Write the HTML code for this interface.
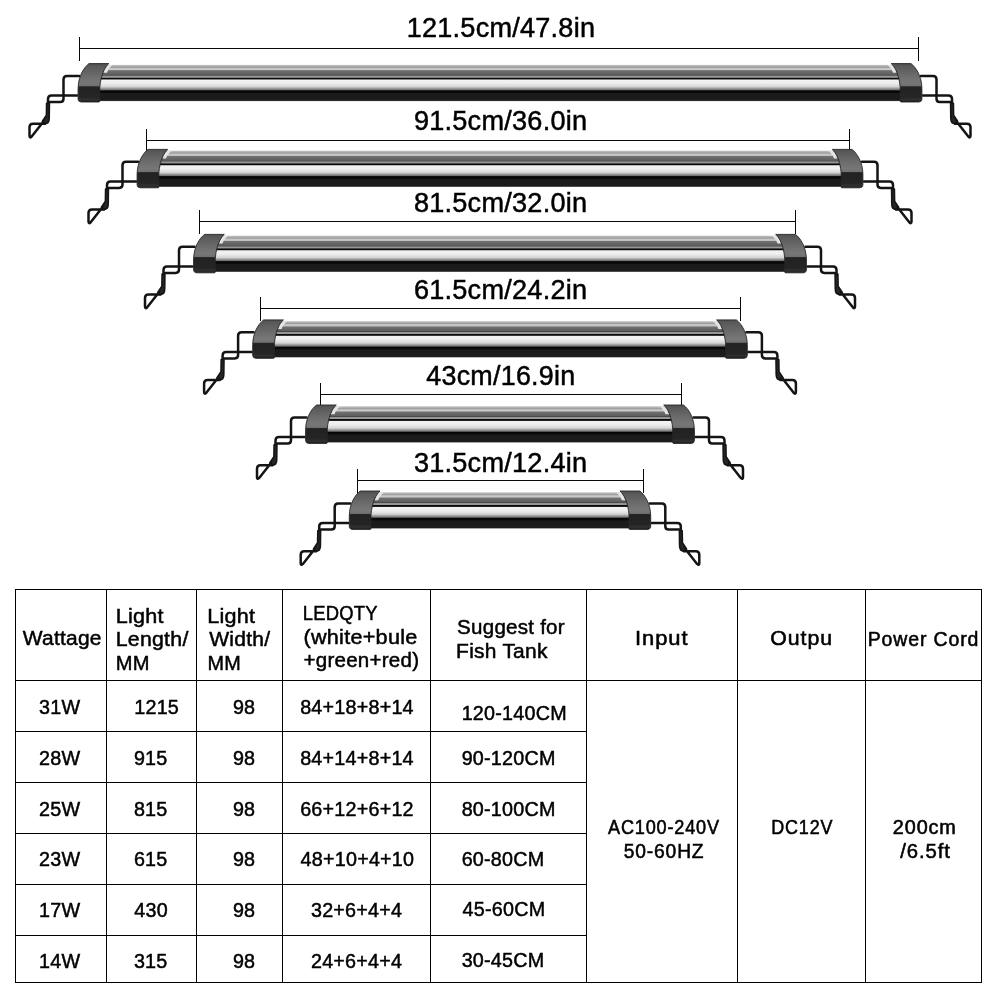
<!DOCTYPE html>
<html><head><meta charset="utf-8"><title>LED Aquarium Light Sizes</title>
<style>
html,body{margin:0;padding:0;background:#fff;}
body{width:1000px;height:1000px;overflow:hidden;position:relative;font-family:"Liberation Sans",sans-serif;}
svg{position:absolute;left:0;top:0;will-change:transform;}
text{font-family:"Liberation Sans",sans-serif;fill:#000;stroke:#000;}
</style></head><body>
<svg width="1000" height="1000" viewBox="0 0 1000 1000">
<defs>
<linearGradient id="body" x1="0" y1="0" x2="0" y2="1">
  <stop offset="0" stop-color="#c4c4c4"/>
  <stop offset="0.045" stop-color="#aaaaaa"/>
  <stop offset="0.07" stop-color="#9a9a9a"/>
  <stop offset="0.095" stop-color="#c8c8c8"/>
  <stop offset="0.13" stop-color="#c6c6c6"/>
  <stop offset="0.16" stop-color="#707070"/>
  <stop offset="0.27" stop-color="#5c5c5c"/>
  <stop offset="0.285" stop-color="#454545"/>
  <stop offset="0.31" stop-color="#959595"/>
  <stop offset="0.345" stop-color="#9a9a9a"/>
  <stop offset="0.36" stop-color="#0a0a0a"/>
  <stop offset="0.39" stop-color="#0a0a0a"/>
  <stop offset="0.415" stop-color="#f2f2f2"/>
  <stop offset="0.5" stop-color="#efefef"/>
  <stop offset="0.6" stop-color="#d6d6d6"/>
  <stop offset="0.64" stop-color="#a8a8a8"/>
  <stop offset="0.69" stop-color="#707070"/>
  <stop offset="0.715" stop-color="#050505"/>
  <stop offset="0.765" stop-color="#0a0a0a"/>
  <stop offset="0.79" stop-color="#1a1a1a"/>
  <stop offset="0.975" stop-color="#1c1c1c"/>
  <stop offset="1" stop-color="#505050"/>
</linearGradient>
<linearGradient id="cap" x1="0" y1="0" x2="0" y2="1">
  <stop offset="0" stop-color="#505050"/>
  <stop offset="0.08" stop-color="#5a5a5a"/>
  <stop offset="0.35" stop-color="#6e6e6e"/>
  <stop offset="0.5" stop-color="#777777"/>
  <stop offset="0.585" stop-color="#707070"/>
  <stop offset="0.6" stop-color="#2a2a2a"/>
  <stop offset="0.63" stop-color="#222222"/>
  <stop offset="0.88" stop-color="#252525"/>
  <stop offset="0.93" stop-color="#303030"/>
  <stop offset="0.97" stop-color="#2a2a2a"/>
  <stop offset="1" stop-color="#151515"/>
</linearGradient>


</defs>

<g fill="#080808"><rect x="79" y="48" width="840" height="1"/><rect x="79" y="37" width="1" height="24"/><rect x="918" y="37" width="1" height="24"/></g>
<g transform="translate(78 64.3)" fill="none" stroke="#141414" stroke-width="2.5" stroke-linecap="round" stroke-linejoin="round">
  <path d="M1 11.7 H-11 Q-14.5 11.7 -14.5 15.2 V34.5 Q-14.5 37.8 -17.8 37.8 H-28.5"/>
  <path d="M-1 31.3 H-26.5 Q-30 31.3 -30 34.8 V41"/>
  <path d="M-31.4 39 L-31.6 51 L-35.6 57 L-34 59.4 L-33 59.4 Q-28.8 59.4 -28.8 54 L-28.6 39 Z" fill="#262626" stroke-width="1.6"/>
  <path d="M-33 59.5 H-45 Q-48.5 59.5 -48.5 63 V71.5 Q-48.5 74.3 -46.3 72.2 L-34.5 57.2"/>
</g>
<g transform="translate(922 64.3) scale(-1 1)" fill="none" stroke="#141414" stroke-width="2.5" stroke-linecap="round" stroke-linejoin="round">
  <path d="M1 11.7 H-11 Q-14.5 11.7 -14.5 15.2 V34.5 Q-14.5 37.8 -17.8 37.8 H-28.5"/>
  <path d="M-1 31.3 H-26.5 Q-30 31.3 -30 34.8 V41"/>
  <path d="M-31.4 39 L-31.6 51 L-35.6 57 L-34 59.4 L-33 59.4 Q-28.8 59.4 -28.8 54 L-28.6 39 Z" fill="#262626" stroke-width="1.6"/>
  <path d="M-33 59.5 H-45 Q-48.5 59.5 -48.5 63 V71.5 Q-48.5 74.3 -46.3 72.2 L-34.5 57.2"/>
</g>
<rect x="93" y="64.9" width="814" height="36.2" fill="url(#body)"/>
<g transform="translate(78 64.3)">
  <path d="M30.5 0.2 L34.5 1 C32 3 30 5.5 29 8.5 L25.2 8.5 C26.5 5 28.3 2 30.5 0.2 Z" fill="#e4e4e4"/>
  <path d="M11 -0.7 H30.8 C26.8 2.5 22.8 11 21.8 23 V36.8 Q21.8 37.7 20.8 37.7 H3 Q0.3 37.5 0.1 35 V24 C0.3 12 6 3 11 -0.7 Z" fill="url(#cap)" stroke="#262626" stroke-width="0.9"/>
</g>
<g transform="translate(922 64.3) scale(-1 1)">
  <path d="M30.5 0.2 L34.5 1 C32 3 30 5.5 29 8.5 L25.2 8.5 C26.5 5 28.3 2 30.5 0.2 Z" fill="#e4e4e4"/>
  <path d="M11 -0.7 H30.8 C26.8 2.5 22.8 11 21.8 23 V36.8 Q21.8 37.7 20.8 37.7 H3 Q0.3 37.5 0.1 35 V24 C0.3 12 6 3 11 -0.7 Z" fill="url(#cap)" stroke="#262626" stroke-width="0.9"/>
</g>
<g fill="#080808"><rect x="146" y="140" width="704" height="1"/><rect x="146" y="129" width="1" height="24"/><rect x="849" y="129" width="1" height="24"/></g>
<g transform="translate(137 150.1)" fill="none" stroke="#141414" stroke-width="2.5" stroke-linecap="round" stroke-linejoin="round">
  <path d="M1 11.7 H-11 Q-14.5 11.7 -14.5 15.2 V34.5 Q-14.5 37.8 -17.8 37.8 H-28.5"/>
  <path d="M-1 31.3 H-26.5 Q-30 31.3 -30 34.8 V41"/>
  <path d="M-31.4 39 L-31.6 51 L-35.6 57 L-34 59.4 L-33 59.4 Q-28.8 59.4 -28.8 54 L-28.6 39 Z" fill="#262626" stroke-width="1.6"/>
  <path d="M-33 59.5 H-45 Q-48.5 59.5 -48.5 63 V71.5 Q-48.5 74.3 -46.3 72.2 L-34.5 57.2"/>
</g>
<g transform="translate(863 150.1) scale(-1 1)" fill="none" stroke="#141414" stroke-width="2.5" stroke-linecap="round" stroke-linejoin="round">
  <path d="M1 11.7 H-11 Q-14.5 11.7 -14.5 15.2 V34.5 Q-14.5 37.8 -17.8 37.8 H-28.5"/>
  <path d="M-1 31.3 H-26.5 Q-30 31.3 -30 34.8 V41"/>
  <path d="M-31.4 39 L-31.6 51 L-35.6 57 L-34 59.4 L-33 59.4 Q-28.8 59.4 -28.8 54 L-28.6 39 Z" fill="#262626" stroke-width="1.6"/>
  <path d="M-33 59.5 H-45 Q-48.5 59.5 -48.5 63 V71.5 Q-48.5 74.3 -46.3 72.2 L-34.5 57.2"/>
</g>
<rect x="152" y="150.7" width="696" height="36.2" fill="url(#body)"/>
<g transform="translate(137 150.1)">
  <path d="M30.5 0.2 L34.5 1 C32 3 30 5.5 29 8.5 L25.2 8.5 C26.5 5 28.3 2 30.5 0.2 Z" fill="#e4e4e4"/>
  <path d="M11 -0.7 H30.8 C26.8 2.5 22.8 11 21.8 23 V36.8 Q21.8 37.7 20.8 37.7 H3 Q0.3 37.5 0.1 35 V24 C0.3 12 6 3 11 -0.7 Z" fill="url(#cap)" stroke="#262626" stroke-width="0.9"/>
</g>
<g transform="translate(863 150.1) scale(-1 1)">
  <path d="M30.5 0.2 L34.5 1 C32 3 30 5.5 29 8.5 L25.2 8.5 C26.5 5 28.3 2 30.5 0.2 Z" fill="#e4e4e4"/>
  <path d="M11 -0.7 H30.8 C26.8 2.5 22.8 11 21.8 23 V36.8 Q21.8 37.7 20.8 37.7 H3 Q0.3 37.5 0.1 35 V24 C0.3 12 6 3 11 -0.7 Z" fill="url(#cap)" stroke="#262626" stroke-width="0.9"/>
</g>
<g fill="#080808"><rect x="199" y="221" width="597" height="1"/><rect x="199" y="210" width="1" height="24"/><rect x="795" y="210" width="1" height="24"/></g>
<g transform="translate(193.5 235.1)" fill="none" stroke="#141414" stroke-width="2.5" stroke-linecap="round" stroke-linejoin="round">
  <path d="M1 11.7 H-11 Q-14.5 11.7 -14.5 15.2 V34.5 Q-14.5 37.8 -17.8 37.8 H-28.5"/>
  <path d="M-1 31.3 H-26.5 Q-30 31.3 -30 34.8 V41"/>
  <path d="M-31.4 39 L-31.6 51 L-35.6 57 L-34 59.4 L-33 59.4 Q-28.8 59.4 -28.8 54 L-28.6 39 Z" fill="#262626" stroke-width="1.6"/>
  <path d="M-33 59.5 H-45 Q-48.5 59.5 -48.5 63 V71.5 Q-48.5 74.3 -46.3 72.2 L-34.5 57.2"/>
</g>
<g transform="translate(806.5 235.1) scale(-1 1)" fill="none" stroke="#141414" stroke-width="2.5" stroke-linecap="round" stroke-linejoin="round">
  <path d="M1 11.7 H-11 Q-14.5 11.7 -14.5 15.2 V34.5 Q-14.5 37.8 -17.8 37.8 H-28.5"/>
  <path d="M-1 31.3 H-26.5 Q-30 31.3 -30 34.8 V41"/>
  <path d="M-31.4 39 L-31.6 51 L-35.6 57 L-34 59.4 L-33 59.4 Q-28.8 59.4 -28.8 54 L-28.6 39 Z" fill="#262626" stroke-width="1.6"/>
  <path d="M-33 59.5 H-45 Q-48.5 59.5 -48.5 63 V71.5 Q-48.5 74.3 -46.3 72.2 L-34.5 57.2"/>
</g>
<rect x="208.5" y="235.7" width="583" height="36.2" fill="url(#body)"/>
<g transform="translate(193.5 235.1)">
  <path d="M30.5 0.2 L34.5 1 C32 3 30 5.5 29 8.5 L25.2 8.5 C26.5 5 28.3 2 30.5 0.2 Z" fill="#e4e4e4"/>
  <path d="M11 -0.7 H30.8 C26.8 2.5 22.8 11 21.8 23 V36.8 Q21.8 37.7 20.8 37.7 H3 Q0.3 37.5 0.1 35 V24 C0.3 12 6 3 11 -0.7 Z" fill="url(#cap)" stroke="#262626" stroke-width="0.9"/>
</g>
<g transform="translate(806.5 235.1) scale(-1 1)">
  <path d="M30.5 0.2 L34.5 1 C32 3 30 5.5 29 8.5 L25.2 8.5 C26.5 5 28.3 2 30.5 0.2 Z" fill="#e4e4e4"/>
  <path d="M11 -0.7 H30.8 C26.8 2.5 22.8 11 21.8 23 V36.8 Q21.8 37.7 20.8 37.7 H3 Q0.3 37.5 0.1 35 V24 C0.3 12 6 3 11 -0.7 Z" fill="url(#cap)" stroke="#262626" stroke-width="0.9"/>
</g>
<g fill="#080808"><rect x="260" y="308" width="481" height="1"/><rect x="260" y="297" width="1" height="24"/><rect x="740" y="297" width="1" height="24"/></g>
<g transform="translate(252.6 320.6)" fill="none" stroke="#141414" stroke-width="2.5" stroke-linecap="round" stroke-linejoin="round">
  <path d="M1 11.7 H-11 Q-14.5 11.7 -14.5 15.2 V34.5 Q-14.5 37.8 -17.8 37.8 H-28.5"/>
  <path d="M-1 31.3 H-26.5 Q-30 31.3 -30 34.8 V41"/>
  <path d="M-31.4 39 L-31.6 51 L-35.6 57 L-34 59.4 L-33 59.4 Q-28.8 59.4 -28.8 54 L-28.6 39 Z" fill="#262626" stroke-width="1.6"/>
  <path d="M-33 59.5 H-45 Q-48.5 59.5 -48.5 63 V71.5 Q-48.5 74.3 -46.3 72.2 L-34.5 57.2"/>
</g>
<g transform="translate(747.4 320.6) scale(-1 1)" fill="none" stroke="#141414" stroke-width="2.5" stroke-linecap="round" stroke-linejoin="round">
  <path d="M1 11.7 H-11 Q-14.5 11.7 -14.5 15.2 V34.5 Q-14.5 37.8 -17.8 37.8 H-28.5"/>
  <path d="M-1 31.3 H-26.5 Q-30 31.3 -30 34.8 V41"/>
  <path d="M-31.4 39 L-31.6 51 L-35.6 57 L-34 59.4 L-33 59.4 Q-28.8 59.4 -28.8 54 L-28.6 39 Z" fill="#262626" stroke-width="1.6"/>
  <path d="M-33 59.5 H-45 Q-48.5 59.5 -48.5 63 V71.5 Q-48.5 74.3 -46.3 72.2 L-34.5 57.2"/>
</g>
<rect x="267.6" y="321.2" width="464.8" height="36.2" fill="url(#body)"/>
<g transform="translate(252.6 320.6)">
  <path d="M30.5 0.2 L34.5 1 C32 3 30 5.5 29 8.5 L25.2 8.5 C26.5 5 28.3 2 30.5 0.2 Z" fill="#e4e4e4"/>
  <path d="M11 -0.7 H30.8 C26.8 2.5 22.8 11 21.8 23 V36.8 Q21.8 37.7 20.8 37.7 H3 Q0.3 37.5 0.1 35 V24 C0.3 12 6 3 11 -0.7 Z" fill="url(#cap)" stroke="#262626" stroke-width="0.9"/>
</g>
<g transform="translate(747.4 320.6) scale(-1 1)">
  <path d="M30.5 0.2 L34.5 1 C32 3 30 5.5 29 8.5 L25.2 8.5 C26.5 5 28.3 2 30.5 0.2 Z" fill="#e4e4e4"/>
  <path d="M11 -0.7 H30.8 C26.8 2.5 22.8 11 21.8 23 V36.8 Q21.8 37.7 20.8 37.7 H3 Q0.3 37.5 0.1 35 V24 C0.3 12 6 3 11 -0.7 Z" fill="url(#cap)" stroke="#262626" stroke-width="0.9"/>
</g>
<g fill="#080808"><rect x="320" y="394" width="362" height="1"/><rect x="320" y="383" width="1" height="24"/><rect x="681" y="383" width="1" height="24"/></g>
<g transform="translate(305.5 405.7)" fill="none" stroke="#141414" stroke-width="2.5" stroke-linecap="round" stroke-linejoin="round">
  <path d="M1 11.7 H-11 Q-14.5 11.7 -14.5 15.2 V34.5 Q-14.5 37.8 -17.8 37.8 H-28.5"/>
  <path d="M-1 31.3 H-26.5 Q-30 31.3 -30 34.8 V41"/>
  <path d="M-31.4 39 L-31.6 51 L-35.6 57 L-34 59.4 L-33 59.4 Q-28.8 59.4 -28.8 54 L-28.6 39 Z" fill="#262626" stroke-width="1.6"/>
  <path d="M-33 59.5 H-45 Q-48.5 59.5 -48.5 63 V71.5 Q-48.5 74.3 -46.3 72.2 L-34.5 57.2"/>
</g>
<g transform="translate(694.5 405.7) scale(-1 1)" fill="none" stroke="#141414" stroke-width="2.5" stroke-linecap="round" stroke-linejoin="round">
  <path d="M1 11.7 H-11 Q-14.5 11.7 -14.5 15.2 V34.5 Q-14.5 37.8 -17.8 37.8 H-28.5"/>
  <path d="M-1 31.3 H-26.5 Q-30 31.3 -30 34.8 V41"/>
  <path d="M-31.4 39 L-31.6 51 L-35.6 57 L-34 59.4 L-33 59.4 Q-28.8 59.4 -28.8 54 L-28.6 39 Z" fill="#262626" stroke-width="1.6"/>
  <path d="M-33 59.5 H-45 Q-48.5 59.5 -48.5 63 V71.5 Q-48.5 74.3 -46.3 72.2 L-34.5 57.2"/>
</g>
<rect x="320.5" y="406.3" width="359" height="36.2" fill="url(#body)"/>
<g transform="translate(305.5 405.7)">
  <path d="M30.5 0.2 L34.5 1 C32 3 30 5.5 29 8.5 L25.2 8.5 C26.5 5 28.3 2 30.5 0.2 Z" fill="#e4e4e4"/>
  <path d="M11 -0.7 H30.8 C26.8 2.5 22.8 11 21.8 23 V36.8 Q21.8 37.7 20.8 37.7 H3 Q0.3 37.5 0.1 35 V24 C0.3 12 6 3 11 -0.7 Z" fill="url(#cap)" stroke="#262626" stroke-width="0.9"/>
</g>
<g transform="translate(694.5 405.7) scale(-1 1)">
  <path d="M30.5 0.2 L34.5 1 C32 3 30 5.5 29 8.5 L25.2 8.5 C26.5 5 28.3 2 30.5 0.2 Z" fill="#e4e4e4"/>
  <path d="M11 -0.7 H30.8 C26.8 2.5 22.8 11 21.8 23 V36.8 Q21.8 37.7 20.8 37.7 H3 Q0.3 37.5 0.1 35 V24 C0.3 12 6 3 11 -0.7 Z" fill="url(#cap)" stroke="#262626" stroke-width="0.9"/>
</g>
<g fill="#080808"><rect x="357" y="480" width="287" height="1"/><rect x="357" y="469" width="1" height="24"/><rect x="643" y="469" width="1" height="24"/></g>
<g transform="translate(349.2 491.7)" fill="none" stroke="#141414" stroke-width="2.5" stroke-linecap="round" stroke-linejoin="round">
  <path d="M1 11.7 H-11 Q-14.5 11.7 -14.5 15.2 V34.5 Q-14.5 37.8 -17.8 37.8 H-28.5"/>
  <path d="M-1 31.3 H-26.5 Q-30 31.3 -30 34.8 V41"/>
  <path d="M-31.4 39 L-31.6 51 L-35.6 57 L-34 59.4 L-33 59.4 Q-28.8 59.4 -28.8 54 L-28.6 39 Z" fill="#262626" stroke-width="1.6"/>
  <path d="M-33 59.5 H-45 Q-48.5 59.5 -48.5 63 V71.5 Q-48.5 74.3 -46.3 72.2 L-34.5 57.2"/>
</g>
<g transform="translate(650.8 491.7) scale(-1 1)" fill="none" stroke="#141414" stroke-width="2.5" stroke-linecap="round" stroke-linejoin="round">
  <path d="M1 11.7 H-11 Q-14.5 11.7 -14.5 15.2 V34.5 Q-14.5 37.8 -17.8 37.8 H-28.5"/>
  <path d="M-1 31.3 H-26.5 Q-30 31.3 -30 34.8 V41"/>
  <path d="M-31.4 39 L-31.6 51 L-35.6 57 L-34 59.4 L-33 59.4 Q-28.8 59.4 -28.8 54 L-28.6 39 Z" fill="#262626" stroke-width="1.6"/>
  <path d="M-33 59.5 H-45 Q-48.5 59.5 -48.5 63 V71.5 Q-48.5 74.3 -46.3 72.2 L-34.5 57.2"/>
</g>
<rect x="364.2" y="492.3" width="271.6" height="36.2" fill="url(#body)"/>
<g transform="translate(349.2 491.7)">
  <path d="M30.5 0.2 L34.5 1 C32 3 30 5.5 29 8.5 L25.2 8.5 C26.5 5 28.3 2 30.5 0.2 Z" fill="#e4e4e4"/>
  <path d="M11 -0.7 H30.8 C26.8 2.5 22.8 11 21.8 23 V36.8 Q21.8 37.7 20.8 37.7 H3 Q0.3 37.5 0.1 35 V24 C0.3 12 6 3 11 -0.7 Z" fill="url(#cap)" stroke="#262626" stroke-width="0.9"/>
</g>
<g transform="translate(650.8 491.7) scale(-1 1)">
  <path d="M30.5 0.2 L34.5 1 C32 3 30 5.5 29 8.5 L25.2 8.5 C26.5 5 28.3 2 30.5 0.2 Z" fill="#e4e4e4"/>
  <path d="M11 -0.7 H30.8 C26.8 2.5 22.8 11 21.8 23 V36.8 Q21.8 37.7 20.8 37.7 H3 Q0.3 37.5 0.1 35 V24 C0.3 12 6 3 11 -0.7 Z" fill="url(#cap)" stroke="#262626" stroke-width="0.9"/>
</g>
<g fill="#000">
<rect x="15" y="589" width="1" height="394"/>
<rect x="106" y="589" width="1" height="394"/>
<rect x="196" y="589" width="1" height="394"/>
<rect x="282" y="589" width="1" height="394"/>
<rect x="430" y="589" width="1" height="394"/>
<rect x="586" y="589" width="1" height="394"/>
<rect x="737" y="589" width="1" height="394"/>
<rect x="865" y="589" width="1" height="394"/>
<rect x="981" y="589" width="1" height="394"/>
<rect x="15" y="589" width="967" height="1"/>
<rect x="15" y="680" width="967" height="1"/>
<rect x="15" y="982" width="967" height="1"/>
<rect x="15" y="731" width="572" height="1"/>
<rect x="15" y="782" width="572" height="1"/>
<rect x="15" y="833" width="572" height="1"/>
<rect x="15" y="884" width="572" height="1"/>
<rect x="15" y="935" width="572" height="1"/>
</g>
<g>
<text transform="translate(406.68 36.9) scale(1.0098 1)" font-size="26.8" letter-spacing="0.25" stroke-width="0.5">121.5cm/47.8in</text>
<text transform="translate(413.89 130.4) scale(1.0112 1)" font-size="26.8" letter-spacing="0.25" stroke-width="0.5">91.5cm/36.0in</text>
<text transform="translate(413.89 212.2) scale(1.0112 1)" font-size="26.8" letter-spacing="0.25" stroke-width="0.5">81.5cm/32.0in</text>
<text transform="translate(413.89 298.6) scale(1.0112 1)" font-size="26.8" letter-spacing="0.25" stroke-width="0.5">61.5cm/24.2in</text>
<text transform="translate(426.3 384.9) scale(1.0027 1)" font-size="26.8" letter-spacing="0.25" stroke-width="0.5">43cm/16.9in</text>
<text transform="translate(413.89 471.5) scale(1.0112 1)" font-size="26.8" letter-spacing="0.25" stroke-width="0.5">31.5cm/12.4in</text>
<text transform="translate(22.8 644.5) scale(0.9974 1)" font-size="21.0" letter-spacing="0.25" stroke-width="0.5">Wattage</text>
<text transform="translate(115.64 622.9) scale(1.0289 1)" font-size="21.0" letter-spacing="0.25" stroke-width="0.5">Light</text>
<text transform="translate(115.67 646.3) scale(1.0157 1)" font-size="21.0" letter-spacing="0.25" stroke-width="0.5">Length/</text>
<text transform="translate(115.79 670.3) scale(0.9563 1)" font-size="21.0" letter-spacing="0.25" stroke-width="0.5">MM</text>
<text transform="translate(207.14 622.6) scale(1.0289 1)" font-size="21.0" letter-spacing="0.25" stroke-width="0.5">Light</text>
<text transform="translate(209.2 646) scale(1.0033 1)" font-size="21.0" letter-spacing="0.25" stroke-width="0.5">Width/</text>
<text transform="translate(207.61 670) scale(0.9437 1)" font-size="21.0" letter-spacing="0.25" stroke-width="0.5">MM</text>
<text transform="translate(302.75 620.4) scale(0.8759 1)" font-size="21.0" letter-spacing="0.25" stroke-width="0.5">LEDQTY</text>
<text transform="translate(303.47 644.2) scale(1.0303 1)" font-size="21.0" letter-spacing="0.25" stroke-width="0.5">(white+bule</text>
<text transform="translate(303.52 667.2) scale(0.9784 1)" font-size="21.0" letter-spacing="0.25" stroke-width="0.5">+green+red)</text>
<text transform="translate(457.12 634.4) scale(0.9789 1)" font-size="21.0" letter-spacing="0.25" stroke-width="0.5">Suggest for</text>
<text transform="translate(456.1 658.4) scale(0.9989 1)" font-size="21.0" letter-spacing="0.25" stroke-width="0.5">Fish Tank</text>
<text transform="translate(634.91 644.7) scale(1.0957 1)" font-size="20.0" letter-spacing="0.9" stroke-width="0.55">Input</text>
<text transform="translate(770.24 644.9) scale(1.0643 1)" font-size="20.0" letter-spacing="0.9" stroke-width="0.55">Outpu</text>
<text transform="translate(867.73 646.3) scale(0.9741 1)" font-size="20.0" letter-spacing="0.9" stroke-width="0.55">Power Cord</text>
<text transform="translate(608.1 833.8) scale(0.9049 1)" font-size="20.0" letter-spacing="0.9" stroke-width="0.55">AC100-240V</text>
<text transform="translate(623.74 857.5) scale(0.9598 1)" font-size="20.0" letter-spacing="0.9" stroke-width="0.55">50-60HZ</text>
<text transform="translate(771.3 833.7) scale(0.8985 1)" font-size="20.0" letter-spacing="0.9" stroke-width="0.55">DC12V</text>
<text transform="translate(892.81 833.7) scale(0.9919 1)" font-size="20.0" letter-spacing="0.9" stroke-width="0.55">200cm</text>
<text transform="translate(900.3 857.9) scale(1.0143 1)" font-size="20.0" letter-spacing="0.9" stroke-width="0.55">/6.5ft</text>
<text transform="translate(39.05 713.7) scale(0.9400 1)" font-size="21.0" letter-spacing="0.25" stroke-width="0.5">31W</text>
<text transform="translate(134.24 713.7) scale(0.9400 1)" font-size="21.0" letter-spacing="0.25" stroke-width="0.5">1215</text>
<text transform="translate(232.92 713.7) scale(0.9400 1)" font-size="21.0" letter-spacing="0.25" stroke-width="0.5">98</text>
<text transform="translate(300.13 713.7) scale(0.9400 1)" font-size="21.0" letter-spacing="0.25" stroke-width="0.5">84+18+8+14</text>
<text transform="translate(461.66 719.9) scale(0.9400 1)" font-size="21.0" letter-spacing="0.25" stroke-width="0.5">120-140CM</text>
<text transform="translate(39.05 765) scale(0.9400 1)" font-size="21.0" letter-spacing="0.25" stroke-width="0.5">28W</text>
<text transform="translate(133.88 765) scale(0.9400 1)" font-size="21.0" letter-spacing="0.25" stroke-width="0.5">915</text>
<text transform="translate(232.92 765) scale(0.9400 1)" font-size="21.0" letter-spacing="0.25" stroke-width="0.5">98</text>
<text transform="translate(300.13 765) scale(0.9400 1)" font-size="21.0" letter-spacing="0.25" stroke-width="0.5">84+14+8+14</text>
<text transform="translate(461.66 764.8) scale(0.9400 1)" font-size="21.0" letter-spacing="0.25" stroke-width="0.5">90-120CM</text>
<text transform="translate(39.05 815.8) scale(0.9400 1)" font-size="21.0" letter-spacing="0.25" stroke-width="0.5">25W</text>
<text transform="translate(133.88 815.8) scale(0.9400 1)" font-size="21.0" letter-spacing="0.25" stroke-width="0.5">815</text>
<text transform="translate(232.92 815.8) scale(0.9400 1)" font-size="21.0" letter-spacing="0.25" stroke-width="0.5">98</text>
<text transform="translate(300.13 815.8) scale(0.9400 1)" font-size="21.0" letter-spacing="0.25" stroke-width="0.5">66+12+6+12</text>
<text transform="translate(461.66 815.6) scale(0.9400 1)" font-size="21.0" letter-spacing="0.25" stroke-width="0.5">80-100CM</text>
<text transform="translate(39.05 866) scale(0.9400 1)" font-size="21.0" letter-spacing="0.25" stroke-width="0.5">23W</text>
<text transform="translate(133.88 866) scale(0.9400 1)" font-size="21.0" letter-spacing="0.25" stroke-width="0.5">615</text>
<text transform="translate(232.92 866) scale(0.9400 1)" font-size="21.0" letter-spacing="0.25" stroke-width="0.5">98</text>
<text transform="translate(300.6 866) scale(0.9400 1)" font-size="21.0" letter-spacing="0.25" stroke-width="0.5">48+10+4+10</text>
<text transform="translate(461.66 865.8) scale(0.9400 1)" font-size="21.0" letter-spacing="0.25" stroke-width="0.5">60-80CM</text>
<text transform="translate(39.05 917) scale(0.9400 1)" font-size="21.0" letter-spacing="0.25" stroke-width="0.5">17W</text>
<text transform="translate(134.35 917) scale(0.9400 1)" font-size="21.0" letter-spacing="0.25" stroke-width="0.5">430</text>
<text transform="translate(232.92 917) scale(0.9400 1)" font-size="21.0" letter-spacing="0.25" stroke-width="0.5">98</text>
<text transform="translate(310.94 917) scale(0.9400 1)" font-size="21.0" letter-spacing="0.25" stroke-width="0.5">32+6+4+4</text>
<text transform="translate(462.6 916.2) scale(0.9400 1)" font-size="21.0" letter-spacing="0.25" stroke-width="0.5">45-60CM</text>
<text transform="translate(39.05 968) scale(0.9400 1)" font-size="21.0" letter-spacing="0.25" stroke-width="0.5">14W</text>
<text transform="translate(133.88 968) scale(0.9400 1)" font-size="21.0" letter-spacing="0.25" stroke-width="0.5">315</text>
<text transform="translate(232.92 968) scale(0.9400 1)" font-size="21.0" letter-spacing="0.25" stroke-width="0.5">98</text>
<text transform="translate(310.94 968) scale(0.9400 1)" font-size="21.0" letter-spacing="0.25" stroke-width="0.5">24+6+4+4</text>
<text transform="translate(461.66 967.3) scale(0.9400 1)" font-size="21.0" letter-spacing="0.25" stroke-width="0.5">30-45CM</text>
</g>
</svg></body></html>
